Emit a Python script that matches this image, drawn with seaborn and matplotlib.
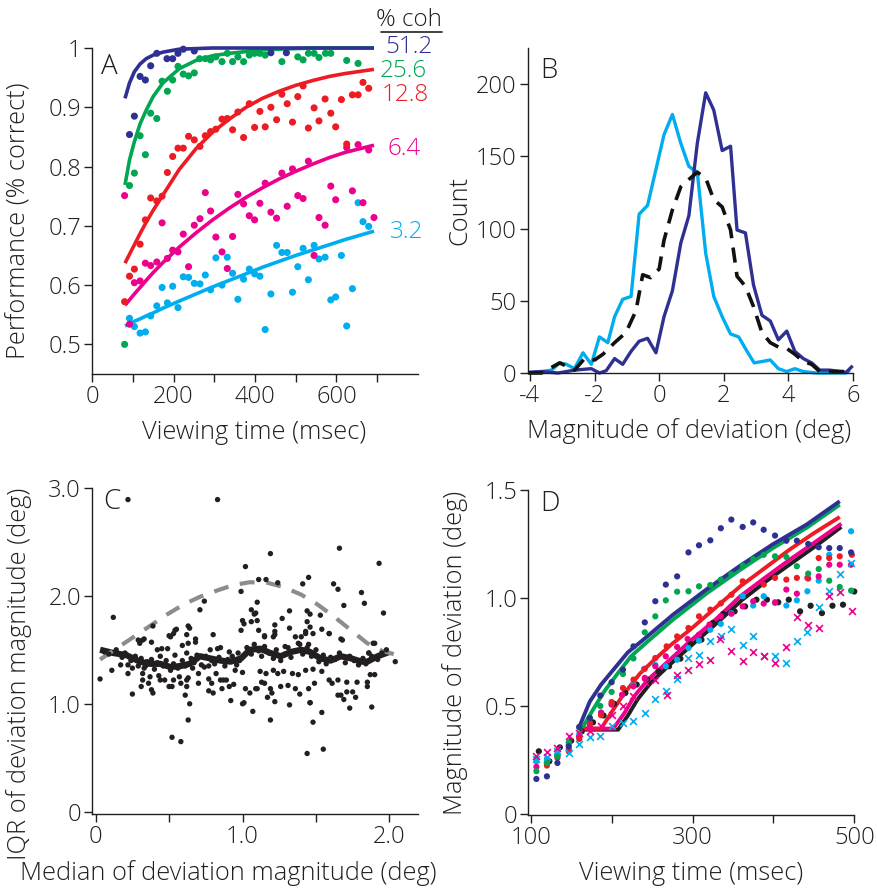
import matplotlib
matplotlib.use("Agg")
import matplotlib.pyplot as plt
import seaborn as sns
import numpy as np
import pandas as pd

# ---------------- colours ----------------
NAVY = "#2e3192"
GREEN = "#00a651"
RED = "#ed1c24"
MAGENTA = "#ec008c"
CYAN = "#00aeef"
INK = "#231f20"
GRAY = "#8c8c8c"

# ---------------- Panel A data ----------------
A_blue_t = [92, 104, 118, 131, 144, 159, 184, 198, 211, 224, 251, 439, 477]
A_blue_y = [0.854, 0.885, 0.952, 0.946, 0.970, 0.991, 0.982, 0.982, 0.991, 0.998, 0.995, 0.992, 0.992]

A_green_t = [80, 92, 104, 118, 131, 144, 159, 172, 185, 198, 211, 224, 237, 251, 264, 278, 291, 304, 319, 332,
             345, 358, 372, 386, 399, 412, 425, 466, 505, 518, 531, 545, 557, 573, 586, 625, 653]
A_green_y = [0.50, 0.768, 0.789, 0.852, 0.82, 0.89, 0.881, 0.944, 0.927, 0.946, 0.969, 0.956, 0.953, 0.958, 0.982,
             0.982, 0.98, 0.985, 0.977, 0.991, 0.977, 0.985, 0.977, 0.988, 0.991, 0.991, 0.988, 0.977, 0.985, 0.98,
             0.991, 0.991, 0.984, 0.991, 0.991, 0.979, 0.974]

A_red_t = [80, 92, 104, 118, 131, 144, 159, 172, 185, 198, 211, 224, 237, 251, 265, 278, 291, 304, 319, 332, 345,
           358, 372, 386, 399, 412, 425, 439, 453, 466, 479, 492, 505, 518, 531, 545, 557, 572, 586, 598, 612, 625,
           639, 653, 665, 679]
A_red_y = [0.572, 0.615, 0.627, 0.669, 0.71, 0.747, 0.742, 0.75, 0.79, 0.817, 0.831, 0.831, 0.851, 0.845, 0.834,
           0.852, 0.859, 0.863, 0.88, 0.881, 0.862, 0.892, 0.849, 0.906, 0.866, 0.893, 0.867, 0.9, 0.879, 0.922,
           0.906, 0.875, 0.918, 0.936, 0.865, 0.899, 0.877, 0.914, 0.89, 0.867, 0.913, 0.838, 0.921, 0.921, 0.942,
           0.932]

A_mag_t = [80, 92, 104, 118, 131, 144, 159, 172, 185, 198, 211, 224, 237, 251, 265, 278, 291, 304, 319, 332, 345,
           358, 372, 386, 399, 412, 425, 439, 453, 466, 479, 492, 505, 518, 531, 545, 557, 572, 586, 598, 625, 639,
           653, 665, 679, 692]
A_mag_y = [0.751, 0.534, 0.604, 0.607, 0.637, 0.633, 0.639, 0.705, 0.645, 0.659, 0.656, 0.686, 0.631, 0.701, 0.712,
           0.756, 0.725, 0.681, 0.656, 0.628, 0.682, 0.753, 0.737, 0.717, 0.71, 0.738, 0.772, 0.723, 0.713, 0.789,
           0.733, 0.796, 0.751, 0.746, 0.809, 0.65, 0.714, 0.701, 0.767, 0.744, 0.832, 0.759, 0.837, 0.739, 0.828,
           0.714]

A_cyan_t = [92, 104, 118, 131, 144, 159, 172, 185, 198, 211, 224, 237, 251, 265, 278, 291, 304, 319, 332, 345, 358,
            372, 386, 399, 412, 425, 439, 453, 466, 479, 492, 505, 518, 531, 545, 557, 572, 586, 598, 612, 625, 639,
            653, 665, 679]
A_cyan_y = [0.544, 0.53, 0.519, 0.521, 0.548, 0.565, 0.596, 0.57, 0.598, 0.562, 0.614, 0.613, 0.603, 0.602, 0.617,
            0.592, 0.646, 0.6, 0.647, 0.62, 0.576, 0.61, 0.627, 0.619, 0.615, 0.525, 0.585, 0.667, 0.655, 0.655,
            0.588, 0.631, 0.662, 0.609, 0.667, 0.644, 0.647, 0.575, 0.58, 0.65, 0.531, 0.594, 0.739, 0.707, 0.699]

# fitted curves
A_fit_t = [81, 92, 104, 118, 133, 150, 174, 214, 255, 296, 337, 378, 418, 459, 500, 541, 582, 622, 692]
A_fit_blue = [0.915, 0.941, 0.960, 0.973, 0.982, 0.988, 0.993, 0.998, 0.999, 1, 1, 1, 1, 1, 1, 1, 1, 1, 1]
A_fit_green = [0.769, 0.811, 0.842, 0.872, 0.895, 0.918, 0.941, 0.965, 0.979, 0.987, 0.991, 0.994, 0.997, 0.998,
               0.999, 1, 1, 1, 1]
A_fit_red = [0.637, 0.652, 0.668, 0.687, 0.706, 0.726, 0.752, 0.795, 0.830, 0.858, 0.880, 0.900, 0.915, 0.927,
             0.937, 0.945, 0.952, 0.957, 0.964]
A_fit_mag = [0.566, 0.575, 0.585, 0.596, 0.608, 0.621, 0.638, 0.664, 0.688, 0.710, 0.730, 0.748, 0.764, 0.779,
             0.792, 0.804, 0.815, 0.824, 0.836]
A_fit_cyan = [0.531, 0.535, 0.539, 0.543, 0.548, 0.553, 0.561, 0.573, 0.585, 0.597, 0.608, 0.619, 0.630, 0.640,
              0.650, 0.659, 0.668, 0.677, 0.691]

A_coh_labels = ["51.2", "25.6", "12.8", "6.4", "3.2"]

# ---------------- Panel B data ----------------
B_cyan_x = [-4.05, -3.64, -3.33, -3.08, -2.87, -2.62, -2.36, -2.10, -1.85, -1.59, -1.38, -1.13, -0.87, -0.62,
            -0.36, -0.10, 0.15, 0.41, 0.67, 0.92, 1.18, 1.44, 1.69, 1.95, 2.21, 2.46, 2.72, 2.94, 3.44, 3.69, 3.95,
            4.20, 4.46, 4.87, 5.79, 5.90]
B_cyan_y = [0, 1, 2, 7, 6, 3, 14, 6, 25, 21, 39, 51, 53, 110, 116, 141, 165, 179, 159, 143, 139, 83, 53, 39, 27, 25,
            15, 7, 9, 3, 1, 3, 1, 0, 0, 2]
B_navy_x = [-4.05, -3.64, -3.13, -2.62, -2.10, -1.85, -1.64, -1.38, -1.13, -0.87, -0.62, -0.36, -0.10, 0.15, 0.41,
            0.67, 0.92, 1.18, 1.44, 1.69, 1.95, 2.21, 2.41, 2.67, 2.92, 3.18, 3.44, 3.69, 3.95, 4.20, 4.46, 4.72,
            4.97, 5.28, 5.79, 5.99]
B_navy_y = [0.5, 1, 0, 2, 3, 0, 1.6, 10, 6, 15, 22, 24, 14, 39, 57, 90, 109, 159, 194, 182, 154, 157, 99, 97, 61, 40,
            36, 23, 29, 15, 10, 7, 2, 2, 0.5, 5]
B_all_x = [-4.05, -3.64, -3.08, -2.62, -2.31, -2.0, -1.74, -1.38, -1.03, -0.72, -0.51, -0.26, 0.0, 0.15, 0.41, 0.67,
           0.92, 1.18, 1.44, 1.69, 1.95, 2.21, 2.41, 2.67, 2.92, 3.18, 3.44, 3.69, 3.95, 4.20, 4.46, 4.72, 4.97, 5.79]
B_all_y = [0, 0, 7, 2, 10, 9, 13, 21, 28, 43, 68, 66, 72, 92, 113, 129, 134, 139, 135, 120, 115, 99, 67, 60, 46, 28,
           21, 18, 17, 13, 8, 6, 1, 1]

# ---------------- Panel C data ----------------
C_x = [0.22, 0.83, 0.12, 0.03, 0.11, 0.25, 0.39, 0.74, 0.71, 0.80,
       1.02, 0.99, 1.11, 1.16, 1.19, 1.24, 1.41, 1.45, 1.62, 1.65, 1.66, 1.69, 1.81, 1.83, 1.93, 1.96, 2.04, 1.90,
       1.86, 1.88, 1.73, 1.67,
       0.52, 0.58, 0.63, 0.64, 0.92, 1.0, 1.07, 1.19, 1.32, 1.44, 1.48, 1.55, 1.54, 1.46,
       1.10, 1.09, 1.10, 1.32, 1.27, 1.22, 1.11, 1.44, 1.46, 1.53, 1.44, 1.46, 1.48, 1.43, 1.40, 1.54, 1.59, 1.67,
       1.32, 1.22, 1.15, 1.21,
       1.06, 1.08, 1.06, 1.01, 1.0, 0.99, 0.63, 0.64, 0.62, 0.55, 0.53, 0.50, 0.68, 0.33, 0.32, 0.30, 0.29, 0.38,
       0.42, 0.45, 0.49, 0.51, 0.54, 0.59, 0.63, 0.68, 0.62, 0.54, 0.44,
       0.78, 0.83, 0.85, 0.91, 0.97, 1.04,
       1.15, 1.22, 1.36, 1.43, 1.38, 1.29, 1.45, 1.68, 1.89, 1.86, 1.59,
       0.17, 0.22, 0.22, 0.25, 0.32, 0.32, 0.31, 0.36, 0.38, 0.39, 0.34, 0.37, 0.43, 0.44, 0.47, 0.50, 0.52,
       0.57, 0.53, 0.58, 0.62, 0.63, 0.62, 0.61,
       0.66, 0.70, 0.70, 0.74, 0.77, 0.77, 0.79, 0.77, 0.80, 0.82, 0.85, 0.87, 0.89, 0.86, 0.91, 0.94, 0.95, 1.0,
       1.02, 1.01, 1.05, 1.09,
       1.10, 1.17, 1.20, 1.22, 1.13, 1.15, 1.19, 1.26, 1.31, 1.36, 1.39, 1.45, 1.46, 1.49,
       1.12, 1.16, 1.21, 1.24, 1.28, 1.34, 1.38, 1.43, 1.48, 1.54,
       1.59, 1.61, 1.65, 1.65, 1.69, 1.71, 1.71, 1.75, 1.78, 1.77, 1.85, 1.85, 1.87, 1.90,
       0.06, 0.09, 0.14, 0.18, 0.20, 0.24, 0.27, 0.29, 0.31, 0.33, 0.35, 0.38, 0.40, 0.42, 0.46, 0.48, 0.51, 0.53,
       0.56, 0.59, 0.61, 0.65, 0.67, 0.69, 0.72, 0.75, 0.79, 0.81, 0.84, 0.88, 0.90, 0.93, 0.96, 0.98, 1.01, 1.03,
       1.06, 1.08, 1.11, 1.13, 1.15, 1.18, 1.21, 1.23, 1.26, 1.29, 1.31, 1.33, 1.36, 1.39, 1.41, 1.44, 1.47, 1.50,
       1.52, 1.55, 1.57, 1.60, 1.63, 1.66, 1.70, 1.73, 1.76, 1.79, 1.82, 1.84, 1.88, 1.92, 1.95, 1.98]
C_y = [2.89, 2.89, 1.80, 1.23, 1.31, 1.09, 1.72, 1.95, 1.87, 1.64,
       2.27, 2.04, 2.15, 2.15, 2.39, 2.12, 2.11, 2.17, 2.11, 2.06, 2.44, 1.91, 2.03, 1.93, 2.30, 1.84, 1.39, 1.56,
       1.47, 0.97, 0.96, 1.08,
       0.69, 0.65, 0.85, 1.00, 1.03, 1.0, 0.93, 0.85, 0.99, 0.54, 0.83, 0.58, 0.92, 1.01,
       1.94, 1.84, 1.77, 1.86, 1.79, 1.73, 1.68, 1.86, 1.83, 1.82, 1.76, 1.71, 1.65, 1.67, 1.62, 1.69, 1.65, 1.60,
       1.70, 1.67, 1.63, 1.62,
       1.87, 1.83, 1.76, 1.74, 1.77, 1.68, 1.72, 1.70, 1.64, 1.69, 1.65, 1.63, 1.60, 1.60, 1.59, 1.56, 1.59, 1.57,
       1.50, 1.51, 1.51, 1.62, 1.68, 1.54, 1.56, 1.57, 1.47, 1.45, 1.44,
       1.50, 1.51, 1.52, 1.48, 1.47, 1.49,
       1.62, 1.64, 1.62, 1.65, 1.56, 1.53, 1.55, 1.59, 1.56, 1.47, 1.65,
       1.36, 1.36, 1.28, 1.33, 1.28, 1.22, 1.16, 1.19, 1.13, 1.10, 1.35, 1.25, 1.26, 1.22, 1.22, 1.16, 1.16,
       1.25, 1.22, 1.19, 1.22, 1.24, 1.16, 1.08,
       1.33, 1.28, 1.19, 1.34, 1.35, 1.23, 1.19, 1.12, 1.10, 1.28, 1.22, 1.22, 1.22, 1.14, 1.16, 1.18, 1.31, 1.29,
       1.14, 1.01, 1.10, 1.14,
       1.14, 1.06, 1.10, 1.02, 1.20, 1.19, 1.14, 1.16, 1.17, 1.14, 1.09, 1.14, 1.01, 1.19,
       1.30, 1.28, 1.31, 1.28, 1.30, 1.28, 1.27, 1.31, 1.32, 1.30,
       1.22, 1.19, 1.22, 1.08, 1.04, 1.20, 1.11, 1.11, 1.20, 1.06, 1.20, 1.16, 1.27, 1.27,
       1.48, 1.46, 1.50, 1.43, 1.47, 1.40, 1.44, 1.35, 1.42, 1.33, 1.39, 1.41, 1.32, 1.38, 1.35, 1.40, 1.31, 1.37,
       1.33, 1.40, 1.35, 1.42, 1.38, 1.45, 1.36, 1.44, 1.40, 1.37, 1.43, 1.35, 1.41, 1.44, 1.36, 1.40, 1.45, 1.52,
       1.46, 1.55, 1.49, 1.44, 1.53, 1.47, 1.42, 1.50, 1.40, 1.46, 1.52, 1.43, 1.49, 1.55, 1.46, 1.52, 1.44, 1.50,
       1.39, 1.45, 1.37, 1.43, 1.41, 1.47, 1.38, 1.44, 1.40, 1.36, 1.42, 1.37, 1.44, 1.41, 1.47, 1.50]

C_med_x = [0.03, 0.12, 0.21, 0.30, 0.37, 0.44, 0.51, 0.58, 0.64, 0.71, 0.78, 0.85, 0.92, 0.99, 1.05, 1.12, 1.19,
           1.26, 1.33, 1.40, 1.46, 1.53, 1.60, 1.67, 1.74, 1.81, 1.85, 1.92, 2.0]
C_med_y = [1.50, 1.47, 1.45, 1.39, 1.37, 1.37, 1.34, 1.35, 1.37, 1.44, 1.42, 1.40, 1.39, 1.42, 1.50, 1.51, 1.47,
           1.44, 1.48, 1.50, 1.48, 1.42, 1.40, 1.44, 1.42, 1.39, 1.39, 1.44, 1.48]
C_ref_x = [0.03, 0.15, 0.26, 0.38, 0.49, 0.60, 0.71, 0.83, 0.94, 1.05, 1.17, 1.28, 1.40, 1.51, 1.62, 1.74, 1.85,
           1.95, 2.03]
C_ref_y = [1.41, 1.52, 1.62, 1.73, 1.83, 1.92, 1.99, 2.05, 2.10, 2.125, 2.12, 2.08, 2.01, 1.92, 1.81, 1.68, 1.56,
           1.49, 1.46]

# ---------------- Panel D data ----------------
D_navy_t = [107, 120, 133, 147, 160, 173, 186, 200, 214, 227, 241, 254, 267, 281, 295, 308, 322, 335, 348, 362, 375,
            388, 402, 416, 429, 443, 456, 469, 482, 496]
D_navy_y = [0.162, 0.174, 0.236, 0.313, 0.403, 0.444, 0.548, 0.61, 0.668, 0.776, 0.887, 0.985, 1.062, 1.10, 1.211,
            1.244, 1.267, 1.323, 1.363, 1.329, 1.35, 1.316, 1.289, 1.265, 1.265, 1.25, 1.235, 1.231, 1.231, 1.211]
D_green_t = [107, 120, 133, 147, 160, 173, 186, 200, 214, 227, 241, 254, 267, 281, 295, 308, 322, 335, 348, 362,
             375, 388, 402, 416, 429, 443, 456, 469, 482, 496]
D_green_y = [0.198, 0.236, 0.267, 0.332, 0.40, 0.445, 0.50, 0.565, 0.648, 0.72, 0.841, 0.915, 0.989, 1.029, 1.031,
             1.054, 1.06, 1.085, 1.11, 1.15, 1.18, 1.20, 1.193, 1.19, 1.147, 1.113, 1.134, 1.08, 1.051, 1.034]
D_red_t = [120, 133, 147, 160, 173, 187, 200, 214, 227, 241, 254, 268, 281, 295, 308, 322, 335, 348, 362, 388, 402,
           416, 429, 442, 456, 469, 482, 497]
D_red_y = [0.224, 0.26, 0.29, 0.347, 0.42, 0.457, 0.518, 0.583, 0.622, 0.672, 0.722, 0.776, 0.822, 0.861, 0.915,
           0.946, 0.975, 1.015, 1.077, 1.062, 1.093, 1.085, 1.093, 1.093, 1.185, 1.185, 1.193, 1.20]
D_mag_t = [107, 120, 133, 147, 160, 173, 187, 200, 213, 227, 241, 254, 267, 281, 294, 308, 321, 335, 348, 362, 375,
           388, 402, 416, 429, 443, 456, 469, 482, 496]
D_mag_y = [0.218, 0.238, 0.27, 0.30, 0.356, 0.406, 0.468, 0.506, 0.552, 0.591, 0.63, 0.684, 0.73, 0.773, 0.81, 0.83,
           0.877, 0.915, 0.927, 0.961, 0.985, 0.974, 0.98, 1.039, 1.02, 1.09, 1.10, 1.154, 1.154, 1.154]
D_cyan_t = [107, 120, 133, 147, 160, 173, 187, 200, 213, 227, 240, 254, 267, 281, 295, 308, 322, 335, 348, 362, 375,
            388, 402, 416, 429, 442, 456, 469, 496]
D_cyan_y = [0.244, 0.255, 0.279, 0.32, 0.37, 0.42, 0.47, 0.51, 0.55, 0.60, 0.671, 0.69, 0.684, 0.714, 0.768, 0.802,
            0.853, 0.88, 0.93, 1.008, 0.965, 1.008, 0.977, 0.965, 0.989, 1.031, 1.08, 1.20, 1.309]
D_black_t = [110, 123, 136, 150, 163, 177, 190, 203, 217, 231, 244, 258, 271, 285, 298, 311, 325, 338, 352, 365, 379,
             392, 406, 419, 433, 446, 460, 473, 486, 500]
D_black_y = [0.29, 0.244, 0.308, 0.339, 0.382, 0.424, 0.456, 0.51, 0.56, 0.599, 0.622, 0.66, 0.684, 0.719, 0.787,
             0.807, 0.884, 0.926, 0.938, 0.961, 0.992, 0.992, 0.98, 0.992, 0.938, 0.964, 0.93, 0.964, 0.969, 1.03]
D_magx_t = [107, 120, 133, 147, 160, 173, 187, 200, 214, 227, 241, 254, 268, 281, 294, 308, 321, 334, 348, 362, 375,
            388, 402, 416, 429, 443, 456, 469, 482, 497]
D_magx_y = [0.267, 0.285, 0.305, 0.362, 0.375, 0.383, 0.406, 0.46, 0.498, 0.545, 0.61, 0.622, 0.552, 0.645, 0.668,
            0.694, 0.711, 0.811, 0.756, 0.706, 0.75, 0.73, 0.699, 0.773, 0.912, 0.877, 0.861, 1.008, 1.026, 0.938]
D_cyanx_t = [107, 120, 133, 147, 160, 173, 186, 200, 214, 227, 241, 254, 267, 281, 295, 308, 322, 335, 348, 362, 375,
             388, 402, 416, 429, 442, 456, 469, 482, 496]
D_cyanx_y = [0.255, 0.265, 0.29, 0.282, 0.324, 0.355, 0.363, 0.406, 0.421, 0.429, 0.468, 0.532, 0.568, 0.625, 0.722,
             0.737, 0.80, 0.826, 0.856, 0.784, 0.826, 0.733, 0.733, 0.699, 0.80, 0.841, 0.958, 1.031, 1.113, 1.162]

D_fit_navy_t = [160, 173, 187, 204, 220, 237, 276, 317, 358, 399, 441, 482]
D_fit_navy_y = [0.403, 0.52, 0.599, 0.676, 0.748, 0.800, 0.923, 1.039, 1.147, 1.248, 1.34, 1.448]
D_fit_green_t = [160, 165, 177, 191, 208, 224, 245, 276, 317, 358, 399, 441, 482]
D_fit_green_y = [0.40, 0.406, 0.483, 0.568, 0.653, 0.73, 0.800, 0.90, 1.02, 1.128, 1.23, 1.325, 1.432]
D_fit_red_t = [160, 187, 202, 216, 235, 253, 274, 297, 330, 359, 390, 420, 450, 482]
D_fit_red_y = [0.395, 0.395, 0.483, 0.56, 0.650, 0.715, 0.785, 0.853, 0.960, 1.054, 1.14, 1.224, 1.30, 1.375]
D_fit_mag_t = [160, 202, 216, 228, 245, 270, 297, 330, 359, 390, 420, 452, 484]
D_fit_mag_y = [0.395, 0.395, 0.468, 0.545, 0.622, 0.707, 0.800, 0.905, 1.008, 1.095, 1.177, 1.26, 1.344]
D_fit_black_t = [160, 208, 220, 232, 249, 273, 300, 332, 361, 392, 422, 454, 484]
D_fit_black_y = [0.390, 0.390, 0.455, 0.53, 0.61, 0.695, 0.785, 0.89, 0.99, 1.08, 1.16, 1.245, 1.329]

# ---------------- style ----------------
sns.set_theme(style="ticks")
plt.rcParams["font.family"] = ["Open Sans", "DejaVu Sans"]
plt.rcParams["font.weight"] = "light"
plt.rcParams["axes.labelweight"] = "light"
plt.rcParams.update({
    "axes.edgecolor": INK, "axes.linewidth": 1.0, "xtick.color": INK, "ytick.color": INK,
    "xtick.major.size": 5.5, "ytick.major.size": 5.5, "xtick.major.width": 1.0, "ytick.major.width": 1.0,
    "xtick.major.pad": 2.5, "ytick.major.pad": 2.5, "text.color": INK, "axes.labelcolor": INK,
    "xtick.labelsize": 17, "ytick.labelsize": 17, "axes.labelsize": 18.3,
    "axes.unicode_minus": False,
})

W, H = 878, 888
fig = plt.figure(figsize=(W / 100, H / 100), dpi=100)


def add_ax(x0, x1, ytop, ybot):
    return fig.add_axes([x0 / W, 1 - ybot / H, (x1 - x0) / W, (ybot - ytop) / H])


def style(ax):
    sns.despine(ax=ax)
    ax.set_facecolor("white")


def line(ax, x, y, color, lw, dash=None):
    sns.lineplot(x=x, y=y, color=color, lw=lw, sort=False, estimator=None, ax=ax,
                 solid_capstyle="butt", clip_on=False)
    if dash is not None:
        ax.get_lines()[-1].set_linestyle((0, dash))


def dots(ax, x, y, color, s, marker="o", lw=0):
    if marker == "o":
        sns.scatterplot(x=x, y=y, color=color, s=s, edgecolor="none", linewidth=0, ax=ax, clip_on=False,
                        zorder=3)
    else:
        sns.scatterplot(x=x, y=y, color=color, s=s, marker=marker, linewidth=lw, ax=ax, clip_on=False,
                        zorder=3)


# ================= Panel A =================
axA = add_ax(92, 418, 48, 374)
style(axA)
for t, y, c in [(A_cyan_t, A_cyan_y, CYAN), (A_mag_t, A_mag_y, MAGENTA), (A_red_t, A_red_y, RED),
                (A_green_t, A_green_y, GREEN), (A_blue_t, A_blue_y, NAVY)]:
    dots(axA, t, y, c, 26)
for f, c in [(A_fit_cyan, CYAN), (A_fit_mag, MAGENTA), (A_fit_red, RED), (A_fit_green, GREEN),
             (A_fit_blue, NAVY)]:
    line(axA, A_fit_t, f, c, 2.6)
axA.set_xlim(0, 800)
axA.set_ylim(0.45, 1.0)
axA.set_xticks(np.arange(0, 701, 100))
axA.set_xticklabels(["0", "", "200", "", "400", "", "600", ""])
axA.set_yticks([0.5, 0.6, 0.7, 0.8, 0.9, 1.0])
axA.set_yticklabels(["0.5", "0.6", "0.7", "0.8", "0.9", "1"])
axA.set_xlabel("Viewing time (msec)")
axA.set_ylabel("Performance (% correct)")
axA.xaxis.set_label_coords(0.497, -0.14)
axA.yaxis.set_label_coords(-0.185, 0.47)
axA.text(0.028, 0.985, "A", transform=axA.transAxes, fontsize=20, va="top", ha="left")
lab_pos = [(719, 1.001), (707, 0.961), (712, 0.920), (726, 0.829), (731, 0.689)]
for (lx, ly), txt, c in zip(lab_pos, A_coh_labels, [NAVY, GREEN, RED, MAGENTA, CYAN]):
    axA.text(lx, ly, txt, color=c, fontsize=17.5, va="center", ha="left", clip_on=False)
axA.text(697, 1.047, "% coh", color=INK, fontsize=17.5, va="center", ha="left", clip_on=False)
axA.plot([708, 860], [1.027, 1.027], color=INK, lw=1.2, clip_on=False)

# ================= Panel B =================
axB = add_ax(527.7, 853, 48, 373)
style(axB)
line(axB, B_cyan_x, B_cyan_y, CYAN, 2.4)
line(axB, B_navy_x, B_navy_y, NAVY, 2.4)
line(axB, B_all_x, B_all_y, "#111111", 2.6, dash=(4.2, 2.6))
axB.set_xlim(-4.07, 6.0)
axB.set_ylim(0, 225)
axB.set_xticks([-4, -2, 0, 2, 4, 6])
axB.set_yticks([0, 50, 100, 150, 200])
axB.set_xlabel("Magnitude of deviation (deg)")
axB.set_ylabel("Count")
axB.xaxis.set_label_coords(0.495, -0.14)
axB.yaxis.set_label_coords(-0.17, 0.5)
axB.text(0.038, 0.972, "B", transform=axB.transAxes, fontsize=20, va="top", ha="left")

# ================= Panel C =================
axC = add_ax(92, 418, 487.7, 814)
style(axC)
dots(axC, C_x, C_y, INK, 15)
line(axC, C_med_x, C_med_y, INK, 4.5)
line(axC, C_ref_x, C_ref_y, GRAY, 3.0, dash=(3.6, 2.8))
axC.set_xlim(-0.025, 2.195)
axC.set_ylim(-0.02, 3.0)
axC.set_xticks([0, 0.5, 1.0, 1.5, 2.0])
axC.set_xticklabels(["0", "", "1.0", "", "2.0"])
axC.set_yticks([0, 1.0, 2.0, 3.0])
axC.set_yticklabels(["0", "1.0", "2.0", "3.0"])
axC.set_xlabel("Median of deviation magnitude (deg)")
axC.set_ylabel("IQR of deviation magnitude (deg)")
axC.xaxis.set_label_coords(0.417, -0.14)
axC.yaxis.set_label_coords(-0.185, 0.43)
axC.text(0.034, 1.0, "C", transform=axC.transAxes, fontsize=20, va="top", ha="left")

# ================= Panel D =================
axD = add_ax(528.3, 854.3, 490, 815)
style(axD)
for t, y, c in [(D_black_t, D_black_y, INK), (D_cyan_t, D_cyan_y, CYAN), (D_mag_t, D_mag_y, MAGENTA),
                (D_red_t, D_red_y, RED), (D_green_t, D_green_y, GREEN), (D_navy_t, D_navy_y, NAVY)]:
    dots(axD, t, y, c, 20)
dots(axD, D_cyanx_t, D_cyanx_y, CYAN, 24, marker="x", lw=1.2)
dots(axD, D_magx_t, D_magx_y, MAGENTA, 24, marker="x", lw=1.2)
for t, y, c in [(D_fit_black_t, D_fit_black_y, INK), (D_fit_mag_t, D_fit_mag_y, MAGENTA),
                (D_fit_red_t, D_fit_red_y, RED), (D_fit_green_t, D_fit_green_y, GREEN),
                (D_fit_navy_t, D_fit_navy_y, NAVY)]:
    line(axD, t, y, c, 2.8)
axD.set_xlim(97, 500)
axD.set_ylim(-0.005, 1.5)
axD.set_xticks([100, 200, 300, 400, 500])
axD.set_xticklabels(["100", "", "300", "", "500"])
axD.set_yticks([0, 0.5, 1.0, 1.5])
axD.set_yticklabels(["0", "0.5", "1.0", "1.5"])
axD.set_xlabel("Viewing time (msec)")
axD.set_ylabel("Magnitude of deviation (deg)")
axD.xaxis.set_label_coords(0.50, -0.14)
axD.yaxis.set_label_coords(-0.185, 0.5)
axD.text(0.036, 1.0, "D", transform=axD.transAxes, fontsize=20, va="top", ha="left")

for ax in (axA, axB, axC, axD):
    for lab in ax.get_xticklabels() + ax.get_yticklabels():
        lab.set_fontweight("light")

fig.savefig("out.png", dpi=100, facecolor="white")
